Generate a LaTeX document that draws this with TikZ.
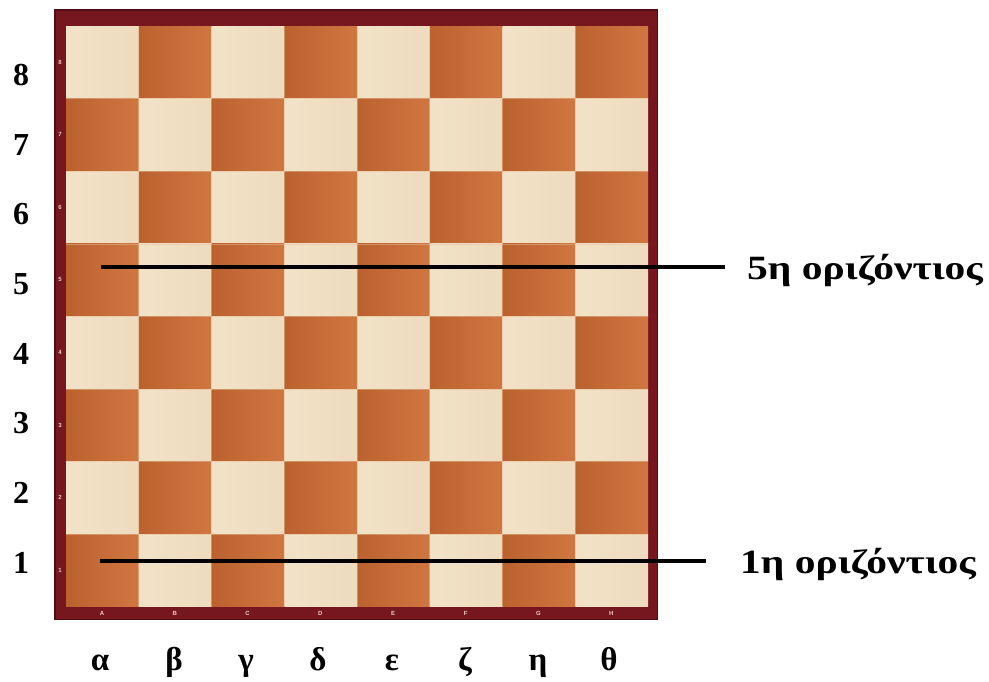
\documentclass[tikz,border=0pt]{standalone}
\usepackage{fontspec}
\setmainfont{Liberation Serif}
\newfontfamily\framefont{Liberation Sans}
\definecolor{lightsq}{RGB}{241,226,199}
\definecolor{darksq}{RGB}{204,106,50}
\definecolor{framecol}{RGB}{118,22,30}
\definecolor{frameedge}{RGB}{80,12,18}
\definecolor{framelbl}{RGB}{236,206,190}
\tikzset{
  ranklbl/.style={font=\fontsize{32}{32}\selectfont\bfseries, inner sep=0pt},
  filelbl/.style={font=\fontsize{33}{33}\selectfont\bfseries, inner sep=0pt, anchor=base},
  smalllbl/.style={font=\framefont\fontsize{6}{6}\selectfont\bfseries, text=framelbl, inner sep=0pt},
  rowtext/.style={font=\fontsize{34}{34}\selectfont\bfseries, inner sep=0pt, anchor=west},
  pointer/.style={line width=3.5pt, black}
}
\begin{document}
\begin{tikzpicture}[x=1pt,y=-1pt]
\useasboundingbox (0,0) rectangle (989,681);
% frame
\fill[framecol] (54,9) rectangle (658,620);
\draw[frameedge, line width=1.5pt] (54.75,9.75) rectangle (657.25,619.25);
% squares
\foreach \c in {0,...,7}{
  \foreach \r in {0,...,7}{
    \pgfmathtruncatemacro{\parity}{mod(\c+\r,2)}
    \ifnum\parity=0
      \shade[left color=lightsq, right color=lightsq!94!darksq] ({66+\c*72.75},{26+\r*72.6}) rectangle ({66+(\c+1)*72.75},{26+(\r+1)*72.6});
    \else
      \shade[left color=darksq!92!black, right color=darksq!90!lightsq] ({66+\c*72.75},{26+\r*72.6}) rectangle ({66+(\c+1)*72.75},{26+(\r+1)*72.6});
    \fi
  }
}
% thin seams
\foreach \i in {1,...,7}{
  \draw[lightsq!70!darksq, line width=0.6pt, opacity=0.5] ({66+\i*72.75},26) -- ({66+\i*72.75},607);
  \draw[lightsq!70!darksq, line width=0.6pt, opacity=0.5] (66,{26+\i*72.6}) -- (648,{26+\i*72.6});
}
% frame small labels
\foreach \n [count=\k from 0] in {8,7,6,5,4,3,2,1}{
  \node[smalllbl] (fr\n) at (60,{62+\k*72.6}) {\n};
}
\foreach \L [count=\k from 0] in {A,B,C,D,E,F,G,H}{
  \node[smalllbl] (ff\L) at ({102+\k*72.75},613) {\L};
}
% rank labels
\foreach \n [count=\k from 0] in {8,7,6,5,4,3,2,1}{
  \node[ranklbl] (rk\n) at (21,{75+\k*69.7}) {\n};
}
% file labels
\foreach \g/\xx [count=\k from 0] in {α/100,β/174,γ/246,δ/318,ε/392,ζ/465,η/538,θ/609}{
  \node[filelbl] (fl\k) at (\xx,670) {\g};
}
% pointer lines and texts
\node[rowtext] (t5) at (747,270) {\scalebox{1.22}[1]{5η οριζόντιος}};
\node[rowtext] (t1) at (740,564) {\scalebox{1.22}[1]{1η οριζόντιος}};
\coordinate (s5) at (101,267);
\coordinate (e5) at (725,267);
\coordinate (s1) at (100,561);
\coordinate (e1) at (706,561);
\draw[pointer] (s5) -- (e5);
\draw[pointer] (s1) -- (e1);
\end{tikzpicture}
\end{document}
